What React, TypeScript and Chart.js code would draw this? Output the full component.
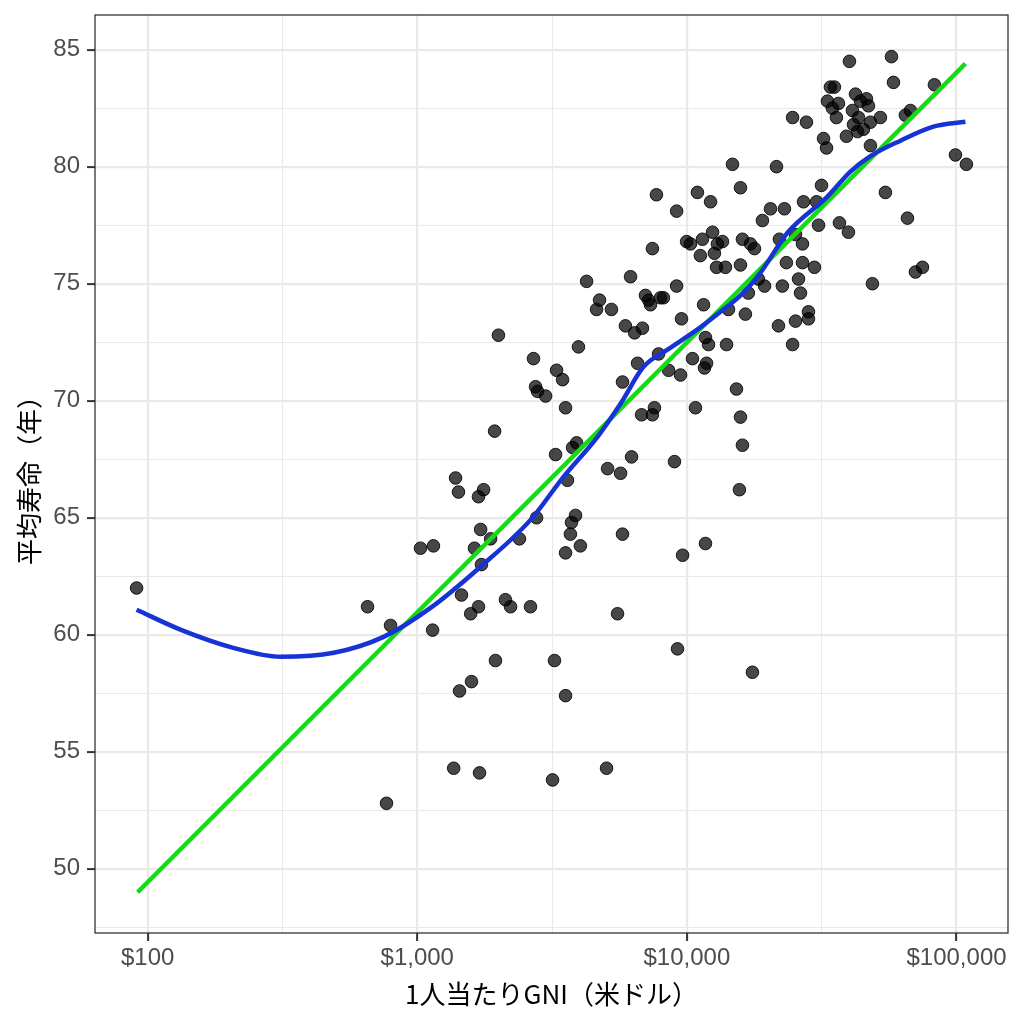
import { useEffect, useRef } from "react"
import { Chart, registerables } from "chart.js"

Chart.register(...registerables)

// 1人当たりGNI（米ドル）と平均寿命（年）
const gni = [
  91, 654, 796, 769, 1028, 1148, 1140, 1387, 1422, 1762,
  1687, 1718, 1630, 1730, 1871, 1459, 1578, 1687, 1589, 1435,
  1365, 1702, 1950, 1936, 2000, 2123, 2218, 2393, 2630, 2698,
  2746, 2793, 2992, 2770, 3228, 3175, 3286, 3459, 3258, 3548,
  3548, 3548, 3606, 3698, 3733, 3864, 4027, 3962, 3767, 3899,
  4246, 4624, 4743, 5035, 5079, 5250, 5530, 5675, 5770, 5770,
  5916, 6180, 6235, 6397, 6562, 6792, 6842, 7020, 7211, 7328,
  7450, 7450, 7580, 7710, 7980, 8185, 7850, 8550, 8995, 9230,
  9160, 9160, 9550, 9470, 9640, 9975, 10310, 10490, 10760, 10940,
  11220, 11420, 11530, 11720, 11620, 11830, 11720, 12030, 12240, 12450,
  12650, 12980, 12880, 13550, 13900, 14030, 14260, 14760, 15270, 15800,
  15800, 15800, 15660, 16070, 16070, 16480, 16900, 17210, 17500, 17810,
  18410, 19060, 19410, 20420, 21490, 21860, 22030, 22600, 23000, 23390,
  24660, 24660, 25290, 25290, 25940, 26380, 26840, 26840, 27070, 27760,
  28240, 28240, 29720, 30260, 30780, 31570, 32120, 32950, 33200, 34060,
  34640, 35250, 35860, 36480, 36790, 39060, 39730, 40070, 41110, 41490,
  42200, 42930, 43290, 44030, 45170, 46340, 47130, 47940, 47940, 48760,
  52200, 54480, 57380, 58360, 64600, 65770, 67460, 70410, 74770, 82790,
  99080, 108800,
]
const lifeExpectancy = [
  62.0, 61.2, 60.4, 52.8, 63.7, 63.8, 60.2, 66.7, 66.1, 66.2,
  65.9, 64.5, 63.7, 63.0, 64.1, 61.7, 60.9, 61.2, 58.0, 57.6,
  54.3, 54.1, 58.9, 68.7, 72.8, 61.5, 61.2, 64.1, 61.2, 71.8,
  70.6, 70.4, 70.2, 65.0, 58.9, 53.8, 71.3, 70.9, 67.7, 63.5,
  57.4, 69.7, 66.6, 64.3, 64.8, 65.1, 63.8, 72.3, 68.0, 68.2,
  75.1, 73.9, 74.3, 54.3, 67.1, 73.9, 60.9, 66.9, 64.3, 70.8,
  73.2, 75.3, 67.6, 72.9, 71.6, 69.4, 73.1, 74.5, 74.3, 74.1,
  76.5, 69.4, 69.7, 78.8, 74.4, 74.4, 72.0, 71.3, 67.4, 59.4,
  78.1, 74.9, 73.5, 71.1, 63.4, 76.8, 76.7, 71.8, 69.7, 78.9,
  76.2, 76.9, 74.1, 72.7, 71.4, 71.6, 63.9, 72.4, 78.5, 77.2,
  76.3, 76.7, 75.7, 76.8, 75.7, 72.4, 73.9, 80.1, 70.5, 69.3,
  75.8, 79.1, 66.2, 68.1, 76.9, 73.7, 74.6, 76.7, 58.4, 76.5,
  75.2, 77.7, 74.9, 78.2, 80.0, 73.2, 76.9, 74.9, 78.2, 75.9,
  82.1, 72.4, 73.4, 77.1, 75.2, 74.6, 76.7, 75.9, 78.5, 81.9,
  73.5, 73.8, 75.7, 78.5, 77.5, 79.2, 81.2, 80.8, 82.8, 83.4,
  82.5, 83.4, 82.1, 82.7, 77.6, 81.3, 77.2, 84.5, 82.4, 81.8,
  83.1, 81.5, 82.1, 82.8, 81.6, 82.9, 82.6, 81.9, 80.9, 75.0,
  82.1, 78.9, 84.7, 83.6, 82.2, 77.8, 82.4, 75.5, 75.7, 83.5,
  80.5, 80.1,
]

// 平滑化曲線（青）
const smoothGni = [
  91, 133, 208, 311, 490, 750, 1120, 1717, 2631, 3486, 4661, 5673,
  6905, 8472, 10950, 13320, 16220, 18750, 23610, 33210, 40400, 47950, 61940, 82090, 107900,
]
const smoothLife = [
  61.07, 60.21, 59.44, 59.06, 59.23, 59.91, 61.15, 62.91, 64.91, 66.75, 68.46, 69.87,
  71.45, 72.18, 73.05, 73.8, 74.62, 75.47, 77.18, 78.72, 79.79, 80.45, 81.11, 81.71, 81.92,
]

// 回帰直線（緑）
const fitGni = [91.8, 107900]
const fitLife = [49.0, 84.4]

const xMajorTicks = [100, 1000, 10000, 100000]
const xTickLabels = ["$100", "$1,000", "$10,000", "$100,000"]
const xMinorTicks = [316.23, 3162.3, 31623]
const yMajorTicks = [50, 55, 60, 65, 70, 75, 80, 85]
const yMinorTicks = [47.5, 52.5, 57.5, 62.5, 67.5, 72.5, 77.5, 82.5]

const tickFont = "'Liberation Sans', Arial, sans-serif"
const titleFont = "'Noto Sans CJK JP', sans-serif"

const panelBorder = {
  id: "panelBorder",
  afterDraw(chart: any) {
    const { ctx, chartArea: a } = chart
    ctx.save()
    ctx.strokeStyle = "#333333"
    ctx.lineWidth = 1.3
    ctx.strokeRect(a.left, a.top, a.right - a.left, a.bottom - a.top)
    ctx.restore()
  },
}

const isMajor = (list: number[], c: any) => !!c.tick && list.includes(c.tick.value)

const App = () => {
  const canvasRef = useRef<HTMLCanvasElement | null>(null)

  useEffect(() => {
    if (!canvasRef.current) return

    const chartInstance = new Chart(canvasRef.current, {
      type: "scatter",
      data: {
        datasets: [
          {
            type: "line",
            data: smoothGni.map((x, i) => ({ x, y: smoothLife[i] })),
            borderColor: "#1733d6",
            borderWidth: 4.5,
            pointRadius: 0,
            cubicInterpolationMode: "monotone",
            order: 1,
          },
          {
            type: "line",
            data: fitGni.map((x, i) => ({ x, y: fitLife[i] })),
            borderColor: "#14dc14",
            borderWidth: 4.5,
            pointRadius: 0,
            order: 2,
          },
          {
            data: gni.map((x, i) => ({ x, y: lifeExpectancy[i] })),
            backgroundColor: "rgba(0,0,0,0.72)",
            borderColor: "rgba(0,0,0,0.85)",
            borderWidth: 1,
            pointRadius: 6.3,
            order: 3,
          },
        ] as any,
      },
      options: {
        animation: false,
        responsive: true,
        maintainAspectRatio: false,
        events: [],
        layout: { padding: { top: 15, right: 16, left: 0, bottom: 0 } },
        plugins: { legend: { display: false }, tooltip: { enabled: false } },
        scales: {
          x: {
            type: "logarithmic",
            min: 63.8,
            max: 155200,
            bounds: "data",
            afterBuildTicks: (s: any) => {
              s.ticks = [...xMajorTicks, ...xMinorTicks].sort((a, b) => a - b).map((v) => ({ value: v }))
            },
            afterFit: (s: any) => {
              s.height = 91
              s.paddingLeft = 0
              s.paddingRight = 0
            },
            border: { display: false },
            grid: {
              color: "#e9e9e9",
              lineWidth: (c: any) => (isMajor(xMajorTicks, c) ? 2.2 : 1.1),
              tickLength: 8,
              tickWidth: 2,
              tickColor: (c: any) => (isMajor(xMajorTicks, c) ? "#333333" : "rgba(0,0,0,0)"),
            },
            ticks: {
              autoSkip: false,
              maxRotation: 0,
              minRotation: 0,
              padding: 3,
              color: "#4d4d4d",
              font: { size: 24, family: tickFont },
              callback: (v: any) => {
                const i = xMajorTicks.indexOf(Number(v))
                return i >= 0 ? xTickLabels[i] : ""
              },
            },
            title: {
              display: true,
              text: "1人当たりGNI（米ドル）",
              color: "#000000",
              font: { size: 26, family: titleFont },
              padding: { top: 0, bottom: 14 },
            },
          },
          y: {
            type: "linear",
            min: 47.26,
            max: 86.48,
            bounds: "data",
            afterBuildTicks: (s: any) => {
              s.ticks = [...yMajorTicks, ...yMinorTicks].sort((a, b) => a - b).map((v) => ({ value: v }))
            },
            afterFit: (s: any) => {
              s.width = 95
              s.paddingTop = 0
              s.paddingBottom = 0
            },
            border: { display: false },
            grid: {
              color: "#e9e9e9",
              lineWidth: (c: any) => (isMajor(yMajorTicks, c) ? 2.2 : 1.1),
              tickLength: 8,
              tickWidth: 2,
              tickColor: (c: any) => (isMajor(yMajorTicks, c) ? "#333333" : "rgba(0,0,0,0)"),
            },
            ticks: {
              autoSkip: false,
              padding: 7,
              color: "#4d4d4d",
              font: { size: 24, family: tickFont },
              callback: (v: any) => (yMajorTicks.includes(Number(v)) ? String(v) : ""),
            },
            title: {
              display: true,
              text: "平均寿命（年）",
              color: "#000000",
              font: { size: 26, family: titleFont },
              padding: { top: 14, bottom: 0 },
            },
          },
        },
      },
      plugins: [panelBorder],
    })

    return () => {
      chartInstance.destroy()
    }
  }, [])

  return (
    <div style={{ position: "fixed", left: 0, top: 0, width: 1024, height: 1024, background: "#ffffff" }}>
      <canvas ref={canvasRef} />
    </div>
  )
}

export default App
